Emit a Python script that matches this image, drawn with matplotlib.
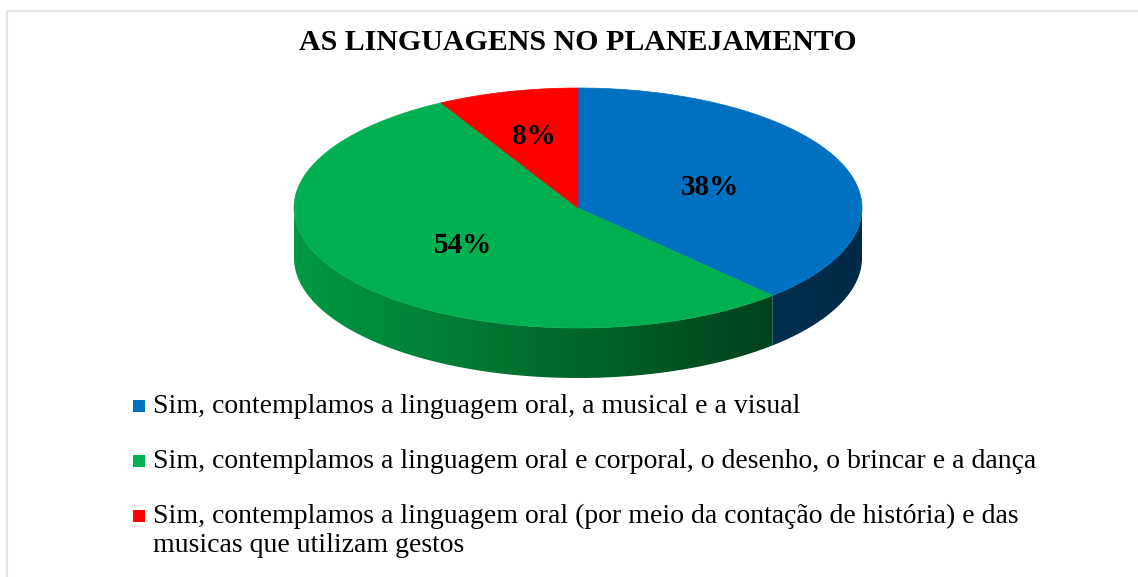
import numpy as np
import matplotlib
matplotlib.use('Agg')
import matplotlib.pyplot as plt
from matplotlib.patches import Polygon, Rectangle

# dados
titulo = 'AS LINGUAGENS NO PLANEJAMENTO'
valores = [38, 54, 8]
rotulos = ['38%', '54%', '8%']
legendas = [
    'Sim, contemplamos a linguagem oral, a musical e a visual',
    'Sim, contemplamos a linguagem oral e corporal, o desenho, o brincar e a dança',
    'Sim, contemplamos a linguagem oral (por meio da contação de história) e das\nmusicas que utilizam gestos',
]
cores = ['#0070C0', '#00B050', '#FF0000']
# cores das laterais (claro -> escuro)
cores_lado = [('#00304f', '#002946'), ('#009a42', '#00421c'), ('#c00000', '#800000')]

W, H = 1138, 577
fig = plt.figure(figsize=(W / 100, H / 100), dpi=100)
ax = fig.add_axes([0, 0, 1, 1])
ax.set_xlim(0, W)
ax.set_ylim(H, 0)
ax.axis('off')

# moldura
ax.plot([7, 7, W], [H, 11, 11], color='#dfe4ec', lw=1.6, solid_capstyle='butt')

cx, cy, rx, ry, prof = 578, 208, 284, 120, 50


def pontos(a1, a2, n=200, dy=0):
    t = np.radians(np.linspace(a1, a2, n))
    return np.column_stack([cx + rx * np.cos(t), cy - ry * np.sin(t) + dy])


fracs = np.array(valores) / sum(valores)
ini = 90.0
angulos = []
for f in fracs:
    fim = ini - 360 * f
    angulos.append((fim, ini))
    ini = fim

# laterais
for (a1, a2), (c1, c2) in zip(angulos, cores_lado):
    # so a parte da frente (angulos entre -180 e 0) aparece
    for k in (0, -360):
        lo, hi = max(a1 - k, -180), min(a2 - k, 0)
        if lo >= hi:
            continue
        cima = pontos(lo, hi)
        baixo = pontos(hi, lo, dy=prof)
        poly = Polygon(np.vstack([cima, baixo]), closed=True, facecolor='none', edgecolor='none')
        ax.add_patch(poly)
        x0, x1 = cima[:, 0].min(), cima[:, 0].max()
        cmap = matplotlib.colors.LinearSegmentedColormap.from_list('g', [c1, c2])
        grad = np.linspace(0, 1, 256)[None, :]
        im = ax.imshow(grad, cmap=cmap, extent=[x0, x1, cy + prof + ry + 2, cy - 2],
                       aspect='auto', interpolation='bilinear', zorder=1)
        im.set_clip_path(poly)

# topo
for (a1, a2), cor in zip(angulos, cores):
    arco = pontos(a1, a2)
    ax.add_patch(Polygon(np.vstack([[cx, cy], arco]), closed=True, facecolor=cor,
                         edgecolor=cor, lw=0.5, zorder=2))

# rotulos
for (a1, a2), txt, f in zip(angulos, rotulos, fracs):
    m = np.radians((a1 + a2) / 2)
    r = 0.63 if f < 0.1 else 0.5
    ax.text(cx + r * rx * np.cos(m), cy - r * ry * np.sin(m) + 2, txt, ha='center', va='center',
            fontsize=21, fontweight='bold', family='Liberation Serif', zorder=3)

ax.text(578, 43, titulo, ha='center', va='center', fontsize=21.5, fontweight='bold',
        family='Liberation Serif')

# legenda
ys = [413, 468, 523]
for y, txt, cor in zip(ys, legendas, cores):
    ax.add_patch(Rectangle((133, y - 13), 12, 12, facecolor=cor, edgecolor='none'))
    for i, linha in enumerate(txt.split('\n')):
        ax.text(153, y + 29 * i, linha, ha='left', va='baseline', fontsize=20,
                family='Liberation Serif')

fig.savefig('out.png', dpi=100)
